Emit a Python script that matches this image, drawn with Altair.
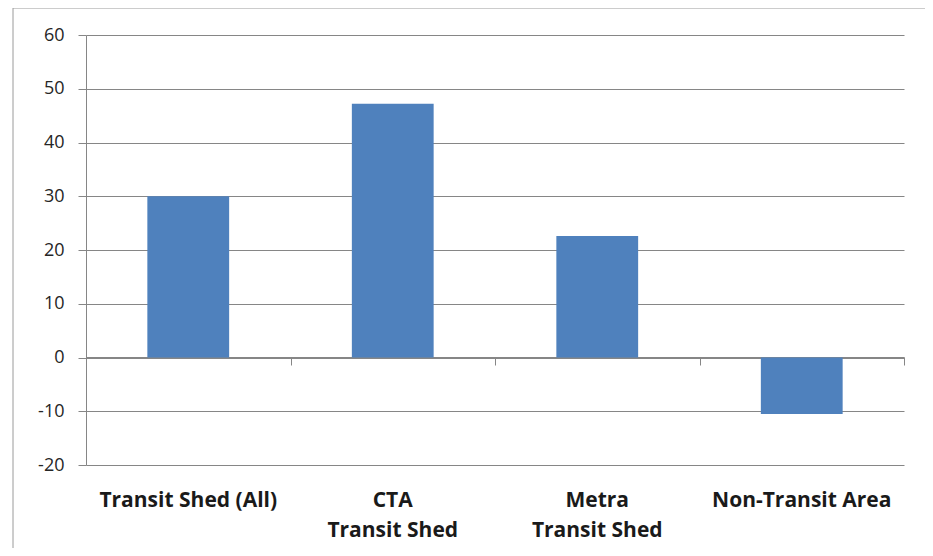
import altair as alt
import pandas as pd

categories = ["Transit Shed (All)", "CTA|Transit Shed", "Metra|Transit Shed", "Non-Transit Area"]
values = [30.0, 47.2, 22.6, -10.5]
y_ticks = [-20, -10, 0, 10, 20, 30, 40, 50, 60]

df = pd.DataFrame({"cat": categories, "val": values})

GRAY = "#868686"
FONT = "Open Sans"

y_scale = alt.Scale(domain=[-20, 60], nice=False, zero=False)
y_axis = alt.Axis(title=None, values=y_ticks, grid=True, gridColor=GRAY,
                  gridWidth=1, domainColor=GRAY, tickColor=GRAY, tickSize=8,
                  labelFont=FONT, labelFontSize=18, labelColor="#262626",
                  labelPadding=14, labelExpr="'' + datum.value")

base = alt.Chart(df)
one = base.transform_filter("datum.cat == 'Transit Shed (All)'")

frame_top = one.mark_rule(color="#9a9a9a", strokeWidth=1).encode(
    x=alt.value(-73), x2=alt.value(839), y=alt.value(-27)
)
frame_left = one.mark_rule(color="#9a9a9a", strokeWidth=1).encode(
    x=alt.value(-73), y=alt.value(-27), y2=alt.value(513)
)

bars = base.mark_bar(color="#4f81bd").encode(
    x=alt.X("cat:N", sort=None, scale=alt.Scale(paddingInner=0.6, paddingOuter=0.3),
            axis=alt.Axis(title=None, domain=False, ticks=False, labelAngle=0,
                          labelPadding=24, labelFont=FONT, labelFontSize=21,
                          labelFontWeight="bold", labelColor="#1a1a1a",
                          labelLineHeight=30, labelBaseline="top",
                          labelExpr="split(datum.label, '|')", grid=False)),
    y=alt.Y("val:Q", scale=y_scale, axis=y_axis),
)

zero_axis = base.mark_bar(opacity=0).encode(
    x=alt.X("cat:N", sort=None, scale=alt.Scale(paddingInner=0, paddingOuter=0),
            axis=alt.Axis(title=None, orient="bottom", offset=-108, labels=False,
                          domain=True, domainColor=GRAY, ticks=True, tickColor=GRAY,
                          tickBand="extent", tickSize=8, grid=False)),
    y=alt.Y("val:Q", scale=y_scale, axis=y_axis),
)

chart = alt.layer(frame_top, frame_left, bars, zero_axis).resolve_scale(
    x="independent"
).resolve_axis(x="independent").properties(
    width=818, height=430,
    autosize=alt.AutoSizeParams(type="none"),
    padding={"left": 78, "top": 27, "right": 21, "bottom": 83},
    background="white",
).configure_view(stroke=None)

chart.save("out.html", embed_options={"renderer": "svg", "actions": False})
